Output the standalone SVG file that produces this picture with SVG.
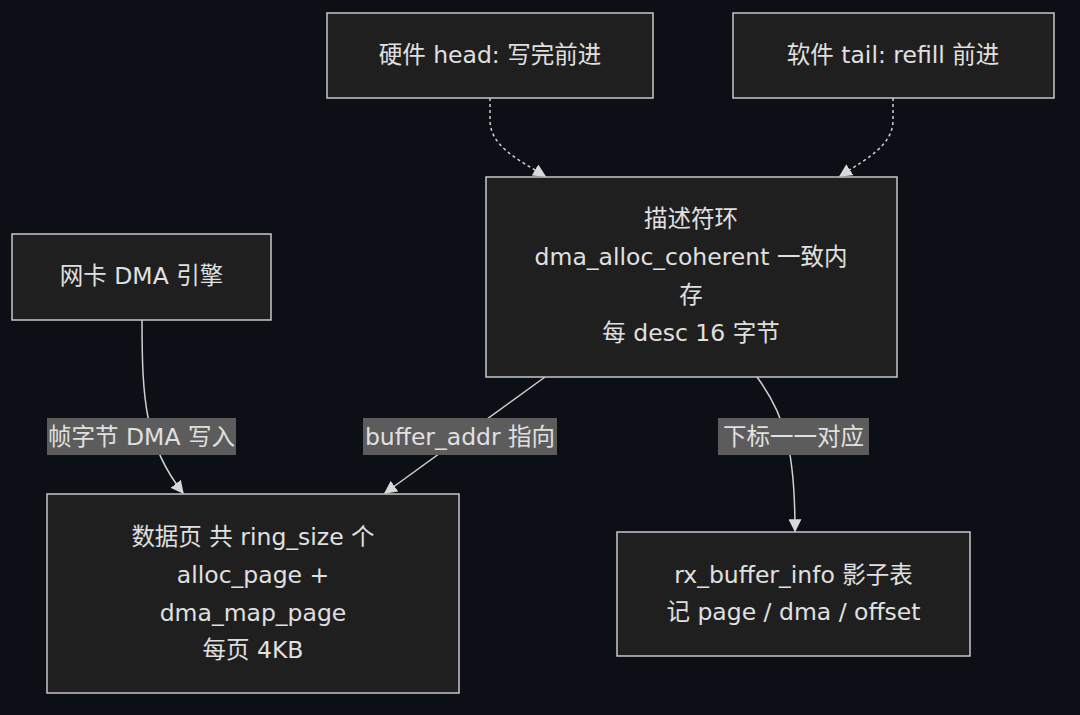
<svg xmlns="http://www.w3.org/2000/svg" width="1080" height="715" viewBox="0 0 1080 715">
<defs>
<style>
.bg{fill:#0d0f16}
.node rect{fill:#1f1f1f;stroke:#c8c8c8;stroke-width:1.5}
.t{font-family:"DejaVu Sans","Noto Sans CJK SC",sans-serif;font-size:23.5px;fill:#e0e0e0;text-anchor:middle;dominant-baseline:central}
.edge{fill:none;stroke:#d0d0d0;stroke-width:1.5}
.dash{stroke-dasharray:3 3}
.lbl rect{fill:#5c5c5c}
</style>
<marker id="ah" viewBox="0 0 10 10" refX="9" refY="5" markerWidth="13" markerHeight="13" markerUnits="userSpaceOnUse" orient="auto">
<path d="M0,0 L10,5 L0,10 z" fill="#d8d8d8"/>
</marker>
</defs>
<rect class="bg" x="0" y="0" width="1080" height="715"/>
<g id="connectors">
<path class="edge dash" d="M490,98 L490,120 C490,145 515,158 545,176" marker-end="url(#ah)"/>
<path class="edge dash" d="M893,98 L893,120 C893,145 868,158 840,176" marker-end="url(#ah)"/>
<path class="edge" d="M142,320 C142,400 145,445 183,493" marker-end="url(#ah)"/>
<path class="edge" d="M545,377 L385,493" marker-end="url(#ah)"/>
<path class="edge" d="M757,377 C785,415 795,450 795,531" marker-end="url(#ah)"/>
<g class="lbl" id="label-dma-write"><rect x="47" y="418" width="189" height="37"/><text class="t" x="141.5" y="436.5">帧字节 DMA 写入</text></g>
<g class="lbl" id="label-buffer-addr"><rect x="363" y="418" width="194" height="37"/><text class="t" x="460" y="436.5">buffer_addr 指向</text></g>
<g class="lbl" id="label-index"><rect x="718" y="418" width="151" height="37"/><text class="t" x="793.5" y="436.5">下标一一对应</text></g>
</g>
<g class="node" id="hw-head"><rect x="327" y="13" width="326" height="85"/><text class="t" x="490" y="55">硬件 head: 写完前进</text></g>
<g class="node" id="sw-tail"><rect x="733" y="13" width="321" height="85"/><text class="t" x="893" y="55">软件 tail: refill 前进</text></g>
<g class="node" id="ring"><rect x="486" y="177" width="411" height="200"/>
<text class="t" x="691" y="219">描述符环</text>
<text class="t" x="691" y="257">dma_alloc_coherent 一致内</text>
<text class="t" x="691" y="295">存</text>
<text class="t" x="691" y="333">每 desc 16 字节</text></g>
<g class="node" id="nic"><rect x="12" y="234" width="259" height="86"/><text class="t" x="141.5" y="276">网卡 DMA 引擎</text></g>
<g class="node" id="pages"><rect x="47" y="494" width="412" height="199"/>
<text class="t" x="253" y="537">数据页 共 ring_size 个</text>
<text class="t" x="253" y="575">alloc_page +</text>
<text class="t" x="253" y="613">dma_map_page</text>
<text class="t" x="253" y="650">每页 4KB</text></g>
<g class="node" id="rxinfo"><rect x="617" y="532" width="353" height="124"/>
<text class="t" x="793.5" y="575">rx_buffer_info 影子表</text>
<text class="t" x="793.5" y="612">记 page / dma / offset</text></g>
</svg>
